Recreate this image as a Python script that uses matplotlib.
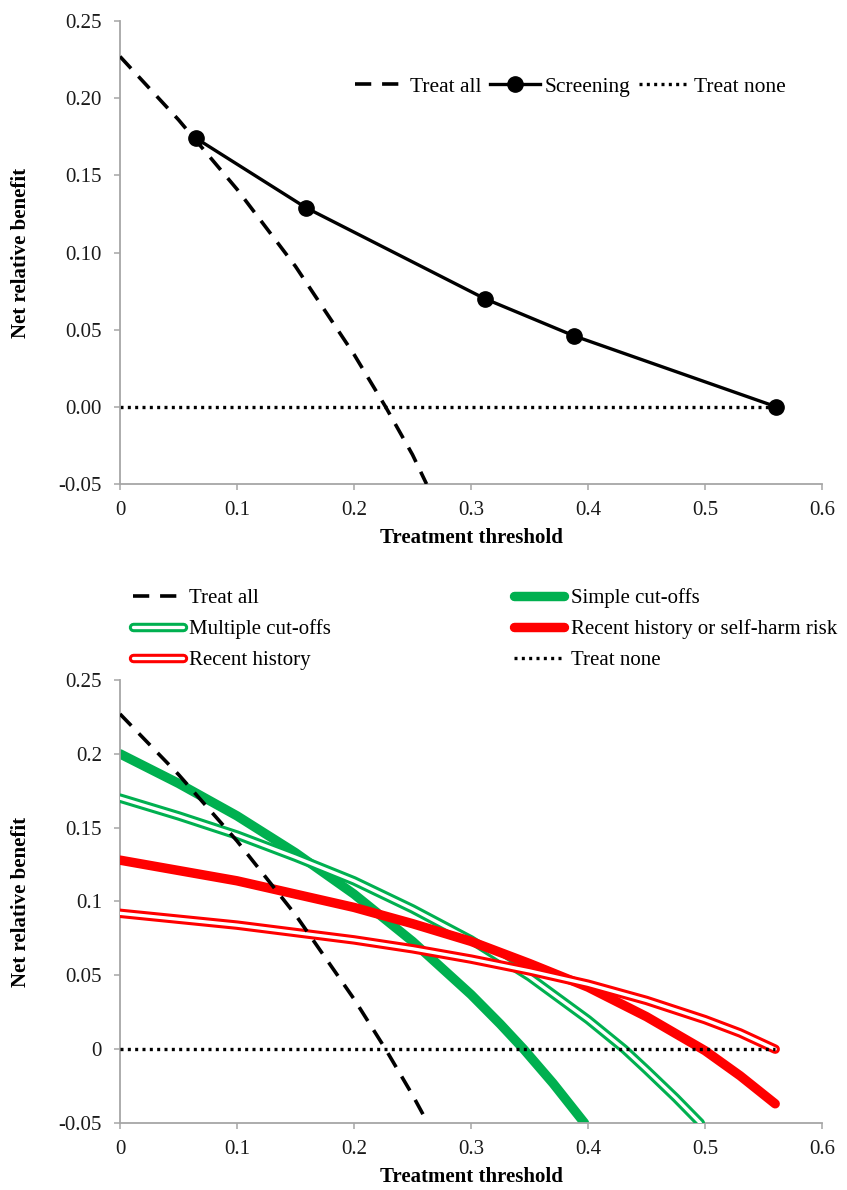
import numpy as np
import matplotlib
matplotlib.use("Agg")
import matplotlib.pyplot as plt
import matplotlib.patheffects as pe
from matplotlib.ticker import FixedLocator

plt.rcParams["font.family"] = ["Liberation Serif", "DejaVu Serif"]
plt.rcParams["font.size"] = 15

# ---- data ----
# top panel
treat_all_x = [0.0, 0.05, 0.1, 0.15, 0.2, 0.227, 0.25, 0.262]
treat_all_y = [0.227, 0.186, 0.141, 0.091, 0.034, 0.0, -0.031, -0.05]
screen_x = [0.065, 0.159, 0.312, 0.388, 0.561]
screen_y = [0.174, 0.129, 0.070, 0.046, 0.0]
none_top_x = [0.0, 0.561]
none_top_y = [0.0, 0.0]

# bottom panel
treat_all2_x = [0.0, 0.05, 0.1, 0.15, 0.2, 0.227, 0.25, 0.263]
treat_all2_y = [0.227, 0.186, 0.141, 0.091, 0.034, 0.0, -0.031, -0.05]
simple_x = [0.0, 0.05, 0.1, 0.15, 0.2, 0.25, 0.3, 0.325, 0.345, 0.37, 0.397]
simple_y = [0.200, 0.180, 0.158, 0.133, 0.105, 0.073, 0.037, 0.017, 0.0, -0.023, -0.05]
multiple_x = [0.0, 0.05, 0.1, 0.15, 0.2, 0.25, 0.3, 0.35, 0.4, 0.431, 0.45, 0.475, 0.496]
multiple_y = [0.170, 0.158, 0.145, 0.130, 0.114, 0.095, 0.074, 0.049, 0.020, 0.0, -0.014, -0.033, -0.05]
self_harm_x = [0.0, 0.05, 0.1, 0.15, 0.2, 0.25, 0.3, 0.35, 0.4, 0.45, 0.5, 0.53, 0.56]
self_harm_y = [0.128, 0.121, 0.114, 0.105, 0.096, 0.085, 0.073, 0.058, 0.042, 0.022, -0.001, -0.018, -0.037]
recent_x = [0.0, 0.05, 0.1, 0.15, 0.2, 0.25, 0.3, 0.35, 0.4, 0.45, 0.5, 0.53, 0.56]
recent_y = [0.092, 0.088, 0.084, 0.079, 0.074, 0.068, 0.061, 0.053, 0.044, 0.033, 0.020, 0.011, 0.0]
none_bot_x = [0.0, 0.56]
none_bot_y = [0.0, 0.0]

x_ticks = [0, 0.1, 0.2, 0.3, 0.4, 0.5, 0.6]
x_labels = ["0", "0.1", "0.2", "0.3", "0.4", "0.5", "0.6"]
y_ticks = [-0.05, 0.0, 0.05, 0.10, 0.15, 0.20, 0.25]
y_labels_top = ["-0.05", "0.00", "0.05", "0.10", "0.15", "0.20", "0.25"]
y_labels_bot = ["-0.05", "0", "0.05", "0.1", "0.15", "0.2", "0.25"]

GREEN = "#00b050"
RED = "#ff0000"
AXIS_GREY = "#a6a6a6"
DOTS = (0, (0.9, 1.3))


def style_axes(ax, ylabels):
    ax.set_xlim(0, 0.6)
    ax.set_ylim(-0.05, 0.25)
    ax.xaxis.set_major_locator(FixedLocator(x_ticks))
    ax.set_xticklabels(x_labels)
    ax.yaxis.set_major_locator(FixedLocator(y_ticks))
    ax.set_yticklabels(ylabels)
    for s in ["top", "right"]:
        ax.spines[s].set_visible(False)
    for s in ["left", "bottom"]:
        ax.spines[s].set_color(AXIS_GREY)
        ax.spines[s].set_linewidth(1.3)
    ax.tick_params(axis="both", direction="out", length=4, width=1.1,
                   color=AXIS_GREY, labelcolor="#1a1a1a", labelsize=15)
    ax.tick_params(axis="x", pad=8)
    ax.tick_params(axis="y", pad=9)
    ax.set_xlabel("Treatment threshold", fontweight="bold", fontsize=15)
    ax.set_ylabel("Net relative benefit", fontweight="bold", fontsize=15)


def double_line(ax, x, y, color, label, z):
    line, = ax.plot(x, y, color="white", lw=2.4, label=label, zorder=z,
                    solid_capstyle="round", solid_joinstyle="round",
                    path_effects=[pe.Stroke(linewidth=6.8, foreground=color,
                                            capstyle="round"), pe.Normal()])
    return line


fig = plt.figure(figsize=(8.47, 11.9), dpi=100)

# ---------- top panel ----------
ax1 = fig.add_axes([120 / 847, 1 - 484 / 1190, 702 / 847, 463 / 1190])
h_all, = ax1.plot(treat_all_x, treat_all_y, color="black", lw=2.6,
                  dashes=(4.5, 3), label="Treat all", zorder=3)
h_scr, = ax1.plot(screen_x, screen_y, color="black", lw=2.4, marker="o",
                  markersize=11, label="Screening", zorder=4)
h_none, = ax1.plot(none_top_x, none_top_y, color="black", lw=2.4,
                   linestyle=DOTS, label="Treat none", zorder=2)
style_axes(ax1, y_labels_top)
ax1.yaxis.set_label_coords(-0.127, 0.5)
ax1.xaxis.set_label_coords(0.5, -0.095)

fig.legend(handles=[h_all, h_scr, h_none], loc="center left",
           bbox_to_anchor=(355 / 847, 1 - 87 / 1190), ncol=3, frameon=False,
           handlelength=2.3, handletextpad=0.25, columnspacing=0.4,
           borderpad=0, borderaxespad=0, fontsize=15.5)

# ---------- bottom panel ----------
ax2 = fig.add_axes([120 / 847, 1 - 1123 / 1190, 702 / 847, 443 / 1190])
g_all, = ax2.plot(treat_all2_x, treat_all2_y, color="black", lw=2.6,
                  dashes=(4.5, 3), label="Treat all", zorder=6)
g_simple, = ax2.plot(simple_x, simple_y, color=GREEN, lw=6.8,
                     solid_capstyle="round", solid_joinstyle="round",
                     label="Simple cut-offs", zorder=2)
g_multi = double_line(ax2, multiple_x, multiple_y, GREEN, "Multiple cut-offs", 3)
g_harm, = ax2.plot(self_harm_x, self_harm_y, color=RED, lw=6.8,
                   solid_capstyle="round", solid_joinstyle="round",
                   label="Recent history or self-harm risk", zorder=4)
g_recent = double_line(ax2, recent_x, recent_y, RED, "Recent history", 5)
g_none, = ax2.plot(none_bot_x, none_bot_y, color="black", lw=2.4,
                   linestyle=DOTS, label="Treat none", zorder=7)
style_axes(ax2, y_labels_bot)
ax2.yaxis.set_label_coords(-0.127, 0.5)
ax2.xaxis.set_label_coords(0.5, -0.1)

fig.legend(handles=[g_all, g_multi, g_recent, g_simple, g_harm, g_none],
           loc="upper left", bbox_to_anchor=(133 / 847, 1 - 588 / 1190),
           ncol=2, frameon=False, handlelength=2.4, handletextpad=0.3,
           columnspacing=8.8, labelspacing=0.55, borderpad=0,
           borderaxespad=0, fontsize=15)

fig.savefig("out.png", dpi=100)
